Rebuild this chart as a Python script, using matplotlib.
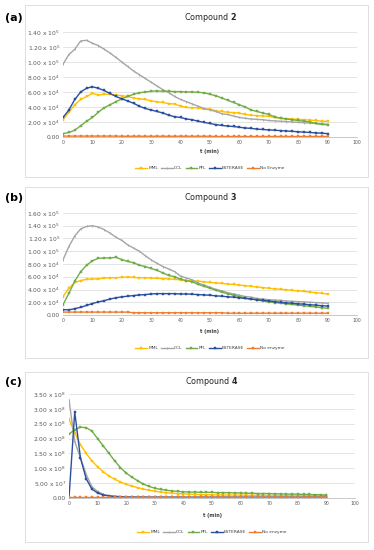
import numpy as np
import matplotlib
matplotlib.use("Agg")
import matplotlib.pyplot as plt
from matplotlib.patches import Rectangle

t = list(range(0, 91, 2))
series_names = ["MML", "CCL", "PFL", "ESTERASE", "No Enzyme"]

# Compound 2 (units of 1e4)
a_mml = [2.3, 3.3, 4.3, 5.0, 5.4, 5.8, 5.6, 5.7, 5.7, 5.6, 5.5, 5.4, 5.2, 5.1, 5.0, 4.8, 4.7, 4.6, 4.45, 4.4,
         4.1, 3.95, 3.9, 3.9, 3.7, 3.7, 3.5, 3.4, 3.3, 3.25, 3.2, 3.0, 2.9, 2.85, 2.8, 2.75, 2.6, 2.5, 2.45, 2.4,
         2.35, 2.3, 2.25, 2.2, 2.1, 2.1]
a_ccl = [9.7, 11.0, 11.7, 12.8, 12.9, 12.5, 12.2, 11.7, 11.2, 10.6, 10.0, 9.4, 8.8, 8.3, 7.8, 7.3, 6.8, 6.3, 5.9, 5.4,
         5.0, 4.7, 4.4, 4.1, 3.8, 3.6, 3.4, 3.1, 3.0, 2.8, 2.6, 2.5, 2.4, 2.35, 2.3, 2.2, 2.15, 2.1, 2.05, 2.0,
         1.95, 1.9, 1.85, 1.8, 1.75, 1.7]
a_pfl = [0.45, 0.6, 0.9, 1.5, 2.1, 2.6, 3.3, 3.9, 4.3, 4.7, 5.1, 5.4, 5.7, 5.9, 6.0, 6.1, 6.15, 6.1, 6.1, 6.05,
         6.05, 6.0, 6.0, 5.95, 5.9, 5.7, 5.5, 5.2, 4.9, 4.6, 4.3, 4.0, 3.6, 3.4, 3.2, 3.0, 2.7, 2.5, 2.4, 2.3,
         2.2, 2.1, 2.0, 1.8, 1.7, 1.6]
a_est = [2.6, 3.6, 5.0, 6.0, 6.5, 6.7, 6.5, 6.2, 5.8, 5.4, 5.1, 4.8, 4.5, 4.1, 3.8, 3.6, 3.4, 3.2, 2.9, 2.7,
         2.6, 2.4, 2.3, 2.1, 1.95, 1.8, 1.65, 1.55, 1.45, 1.4, 1.3, 1.2, 1.15, 1.05, 1.0, 0.95, 0.9, 0.85, 0.8, 0.75,
         0.7, 0.65, 0.6, 0.55, 0.5, 0.45]
a_none = [0.12] * 10 + [0.1] * 16 + [0.07] * 20

# Compound 3 (units of 1e4)
b_mml = [2.9, 4.2, 5.1, 5.4, 5.6, 5.65, 5.65, 5.8, 5.85, 5.85, 5.9, 5.95, 5.9, 5.85, 5.85, 5.8, 5.75, 5.7, 5.65, 5.6,
         5.5, 5.4, 5.35, 5.3, 5.2, 5.1, 5.05, 4.95, 4.85, 4.8, 4.7, 4.6, 4.5, 4.4, 4.3, 4.2, 4.1, 4.05, 3.95, 3.85,
         3.8, 3.7, 3.6, 3.5, 3.4, 3.3]
b_ccl = [8.65, 10.75, 12.4, 13.5, 13.9, 14.0, 13.8, 13.4, 12.85, 12.2, 11.7, 11.0, 10.5, 10.0, 9.3, 8.65, 8.1, 7.6, 7.2, 6.8,
         6.1, 5.8, 5.5, 5.0, 4.7, 4.35, 4.0, 3.8, 3.5, 3.3, 3.1, 2.9, 2.8, 2.6, 2.5, 2.4, 2.35, 2.3, 2.2, 2.15,
         2.1, 2.05, 2.0, 1.95, 1.9, 1.85]
b_pfl = [1.6, 3.4, 5.3, 6.8, 7.8, 8.5, 8.9, 8.95, 8.95, 9.05, 8.7, 8.4, 8.2, 7.8, 7.6, 7.3, 7.0, 6.6, 6.2, 6.0,
         5.6, 5.4, 5.2, 4.8, 4.5, 4.2, 3.9, 3.6, 3.35, 3.1, 2.9, 2.65, 2.5, 2.35, 2.2, 2.05, 1.95, 1.85, 1.75, 1.65,
         1.55, 1.45, 1.35, 1.25, 1.15, 1.05]
b_est = [0.85, 0.8, 1.0, 1.2, 1.5, 1.8, 2.05, 2.25, 2.5, 2.7, 2.85, 2.95, 3.05, 3.15, 3.2, 3.3, 3.35, 3.35, 3.35, 3.35,
         3.3, 3.3, 3.25, 3.2, 3.15, 3.1, 3.0, 2.95, 2.85, 2.8, 2.7, 2.6, 2.5, 2.4, 2.3, 2.2, 2.1, 2.0, 1.9, 1.85,
         1.75, 1.7, 1.6, 1.55, 1.45, 1.4]
b_none = [0.45] * 12 + [0.35] * 16 + [0.28] * 18

# Compound 4 (units of 1e8)
c_mml = [2.65, 2.2, 1.8, 1.5, 1.25, 1.05, 0.88, 0.74, 0.63, 0.54, 0.46, 0.4, 0.35, 0.3, 0.26, 0.23, 0.2, 0.18, 0.16, 0.15,
         0.14, 0.13, 0.12, 0.115, 0.11, 0.11, 0.105, 0.1, 0.1, 0.1, 0.095, 0.095, 0.09, 0.09, 0.09, 0.085, 0.085, 0.08, 0.08, 0.08,
         0.08, 0.075, 0.075, 0.075, 0.07, 0.07]
c_ccl = [3.3, 1.9, 1.35, 0.8, 0.38, 0.22, 0.12, 0.08, 0.06, 0.05, 0.04, 0.035, 0.03, 0.03, 0.03, 0.03, 0.03, 0.03, 0.03, 0.03,
         0.03, 0.03, 0.03, 0.03, 0.03, 0.03, 0.03, 0.03, 0.03, 0.03, 0.03, 0.03, 0.03, 0.03, 0.03, 0.03, 0.03, 0.03, 0.03, 0.03,
         0.03, 0.03, 0.03, 0.03, 0.03, 0.03]
c_pfl = [2.15, 2.3, 2.38, 2.37, 2.25, 2.0, 1.75, 1.5, 1.25, 1.02, 0.84, 0.7, 0.58, 0.47, 0.39, 0.33, 0.29, 0.26, 0.24, 0.22,
         0.21, 0.2, 0.2, 0.19, 0.19, 0.19, 0.18, 0.18, 0.18, 0.17, 0.17, 0.16, 0.16, 0.15, 0.15, 0.15, 0.14, 0.14, 0.13, 0.13,
         0.13, 0.12, 0.12, 0.11, 0.11, 0.1]
c_est = [0.0, 2.9, 1.35, 0.65, 0.3, 0.17, 0.1, 0.07, 0.05, 0.04, 0.03, 0.03, 0.03, 0.03, 0.025, 0.025, 0.025, 0.025, 0.025, 0.025,
         0.02, 0.02, 0.02, 0.02, 0.02, 0.02, 0.02, 0.02, 0.02, 0.02, 0.02, 0.02, 0.02, 0.02, 0.02, 0.02, 0.02, 0.02, 0.02, 0.02,
         0.02, 0.02, 0.02, 0.02, 0.02, 0.02]
c_none = [0.02] * 46

colors = ["#FFC000", "#A5A5A5", "#70AD47", "#2A4F9E", "#ED7D31"]
markers = ["s", "|", "s", "s", "s"]

W, H = 374, 550
fig = plt.figure(figsize=(W / 100, H / 100), dpi=100)
fig.patch.set_facecolor("white")


def fx(px):
    return px / W


def fy(py):
    return 1 - py / H


def ylabel_fmt(v):
    if v == 0:
        return "0.00"
    e = int(np.floor(np.log10(v)))
    m = v / 10 ** e
    return r"%.2f x 10$^{%d}$" % (m, e)


panels = [
    dict(tag="(a)", title="Compound ", num="2", data=[a_mml, a_ccl, a_pfl, a_est, a_none], scale=1e4,
         ymax=14e4, ystep=2e4, box=(25, 5, 368, 177), ax=(63, 32, 357, 137), titley=18, xlaby=152, legy=168,
         legend_last="No Enzyme"),
    dict(tag="(b)", title="Compound ", num="3", data=[b_mml, b_ccl, b_pfl, b_est, b_none], scale=1e4,
         ymax=16e4, ystep=2e4, box=(25, 187, 368, 358), ax=(63, 213, 357, 315), titley=198, xlaby=331, legy=348,
         legend_last="No enzyme"),
    dict(tag="(c)", title="Compound ", num="4", data=[c_mml, c_ccl, c_pfl, c_est, c_none], scale=1e8,
         ymax=3.5e8, ystep=0.5e8, box=(25, 372, 368, 542), ax=(69, 394, 355, 498), titley=382, xlaby=515, legy=532,
         legend_last="No enzyme"),
]

for p in panels:
    bx0, by0, bx1, by1 = p["box"]
    fig.patches.append(Rectangle((fx(bx0), fy(by1)), fx(bx1) - fx(bx0), fy(by0) - fy(by1),
                                 transform=fig.transFigure, fill=False, edgecolor="#D9D9D9", linewidth=0.6))
    x0, y0, x1, y1 = p["ax"]
    ax = fig.add_axes([fx(x0), fy(y1), fx(x1) - fx(x0), fy(y0) - fy(y1)])
    names = series_names[:4] + [p["legend_last"]]
    handles = []
    for vals, name, c, m in zip(p["data"], names, colors, markers):
        y = np.array(vals) * p["scale"]
        h, = ax.plot(t, y, color=c, linewidth=1.0, marker=m, markersize=2.0,
                     markeredgewidth=0.6 if m == "|" else 0.3, label=name)
        handles.append(h)
    ax.set_xlim(0, 100)
    ax.set_ylim(0, p["ymax"])
    yt = np.arange(0, p["ymax"] + p["ystep"] / 2, p["ystep"])
    ax.set_yticks(yt)
    ax.set_yticklabels([ylabel_fmt(v) for v in yt], fontsize=4.3, color="#595959")
    ax.set_xticks(range(0, 101, 10))
    ax.set_xticklabels([str(v) for v in range(0, 101, 10)], fontsize=3.3, color="#595959")
    ax.tick_params(length=0, pad=2)
    ax.grid(axis="y", color="#D9D9D9", linewidth=0.5)
    ax.set_axisbelow(True)
    for s in ["top", "right", "left"]:
        ax.spines[s].set_visible(False)
    ax.spines["bottom"].set_color("#BFBFBF")
    ax.spines["bottom"].set_linewidth(0.6)
    ax.set_facecolor("none")

    cx = (fx(x0) + fx(x1)) / 2
    fig.text(cx, fy(p["titley"]), p["title"] + r"$\bf{" + p["num"] + "}$", ha="center", va="center",
             fontsize=5.8, color="#262626")
    fig.text(fx(5), fy(p["titley"]), p["tag"], ha="left", va="center", fontsize=8, fontweight="bold")
    fig.text(cx, fy(p["xlaby"]), "t (min)", ha="center", va="center", fontsize=3.6,
             fontweight="bold", color="#404040")
    fig.legend(handles=handles, labels=names, loc="center", bbox_to_anchor=(cx, fy(p["legy"])),
               ncol=5, fontsize=3.2, frameon=False, handlelength=2.6, columnspacing=0.7,
               handletextpad=0.3, labelcolor="#404040")

fig.savefig("out.png", dpi=100, facecolor="white")
